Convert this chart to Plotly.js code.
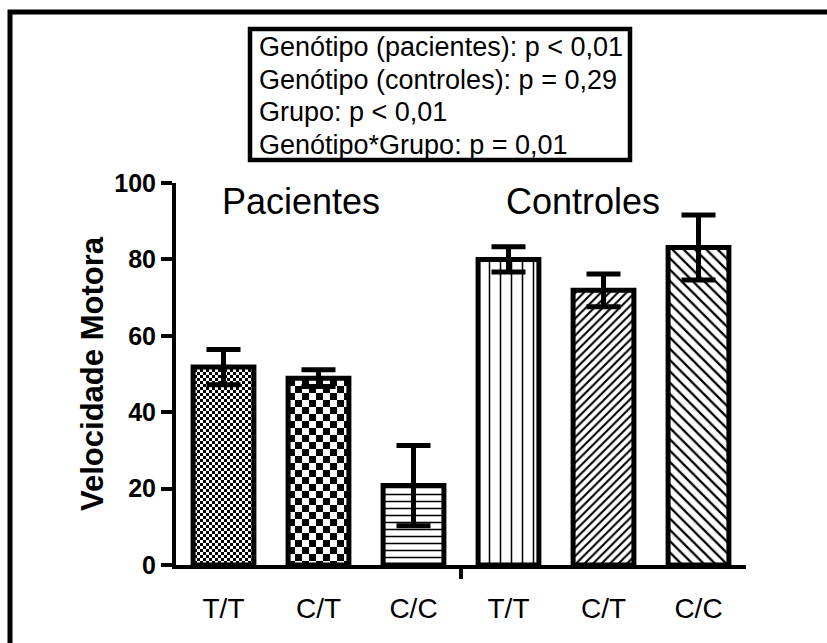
<!DOCTYPE html>
<html>
<head>
<meta charset="utf-8">
<script src="https://cdn.plot.ly/plotly-3.0.1.min.js"></script>
<style>
  html, body { margin: 0; padding: 0; background: #fff; }
  #chart { width: 827px; height: 643px; }
</style>
</head>
<body>
<div id="chart"></div>
<script>
// ---- data ----
const groups    = ['Pacientes', 'Pacientes', 'Pacientes', 'Controles', 'Controles', 'Controles'];
const genotypes = ['T/T', 'C/T', 'C/C', 'T/T', 'C/T', 'C/C'];
const means     = [51.8, 48.9, 20.8, 80.0, 71.9, 83.1];
const sems      = [4.6, 2.2, 10.5, 3.3, 4.3, 8.5];
const groupLabels = ['Pacientes', 'Controles'];
const statsLines = [
  'Genótipo (pacientes): p < 0,01',
  'Genótipo (controles): p = 0,29',
  'Grupo: p < 0,01',
  'Genótipo*Grupo: p = 0,01'
];
const yTicks = [0, 20, 40, 60, 80, 100];
const yTitle = 'Velocidade Motora';

// ---- styling ----
const FONT = 'Liberation Sans, Arial, Helvetica, sans-serif';
const patternShapes = ['.', '.', '-', '|', '/', '\\'];
const patternSizes  = [4, 10, 7, 11, 6, 8];
const patternSolid  = [0.5, 0.45, 0.22, 0.14, 0.35, 0.28];
// checkerboard square size (px) for the first two bars (null = keep library pattern)
const checkerSizes  = [3, 7, null, null, null, null];

const xpos = genotypes.map((_, i) => i);

// pixel -> paper helpers (plot area: x 176..746, y 183..565)
const L = 176, R = 81, T = 183, B = 78, W = 827, H = 643;
const PW = W - L - R, PH = H - T - B;
const px = x => (x - L) / PW;
const py = y => (H - B - y) / PH;

const trace = {
  type: 'bar',
  x: xpos,
  y: means,
  width: 0.64,
  marker: {
    color: 'white',
    line: { color: 'black', width: 5 },
    pattern: {
      shape: patternShapes,
      size: patternSizes,
      solidity: patternSolid,
      fgcolor: 'black',
      bgcolor: 'white',
      fillmode: 'replace'
    }
  },
  error_y: {
    type: 'data',
    array: sems,
    visible: true,
    color: 'black',
    thickness: 5,
    width: 17
  },
  hoverinfo: 'skip'
};

const statsY = [47, 80, 112, 145];
const statsAnn = statsLines.map((t, i) => ({
  text: t, xref: 'paper', yref: 'paper',
  x: px(257), y: py(statsY[i]), xanchor: 'left', yanchor: 'middle', align: 'left',
  showarrow: false, font: { family: FONT, size: 27, color: 'black' }
}));

const layout = {
  width: W, height: H,
  margin: { l: L, r: R, t: T, b: B, pad: 0 },
  paper_bgcolor: 'white',
  plot_bgcolor: 'white',
  showlegend: false,
  xaxis: {
    range: [-0.5, 5.5],
    tickvals: xpos,
    ticktext: genotypes,
    ticks: '',
    showline: true, linecolor: 'black', linewidth: 4,
    showgrid: false, zeroline: false,
    tickfont: { family: FONT, size: 28, color: 'black' },
    ticklabelstandoff: 15,
    fixedrange: true
  },
  yaxis: {
    range: [0, 100],
    tickvals: yTicks,
    ticks: 'outside', ticklen: 11, tickwidth: 4, tickcolor: 'black',
    showline: true, linecolor: 'black', linewidth: 4,
    showgrid: false, zeroline: false,
    tickfont: { family: FONT, size: 25, color: 'black', weight: 'bold' },
    title: { text: yTitle, font: { family: FONT, size: 31, color: 'black', weight: 'bold' }, standoff: 2 },
    fixedrange: true
  },
  shapes: [
    // outer frame
    { type: 'rect', xref: 'paper', yref: 'paper',
      x0: px(10), x1: px(880), y0: py(12), y1: py(700),
      line: { color: 'black', width: 5 }, fillcolor: 'rgba(0,0,0,0)' },
    // stats box
    { type: 'rect', xref: 'paper', yref: 'paper',
      x0: px(250), x1: px(630), y0: py(29), y1: py(160),
      line: { color: 'black', width: 4.5 }, fillcolor: 'white' },
    // separator tick between groups
    { type: 'line', xref: 'x', yref: 'paper',
      x0: 2.5, x1: 2.5, y0: py(565), y1: py(579),
      line: { color: 'black', width: 4 } }
  ],
  annotations: statsAnn.concat([
    { text: groupLabels[0], xref: 'paper', yref: 'paper',
      x: px(301), y: py(201), xanchor: 'center', yanchor: 'middle',
      showarrow: false, font: { family: FONT, size: 36, color: 'black' } },
    { text: groupLabels[1], xref: 'paper', yref: 'paper',
      x: px(583), y: py(201), xanchor: 'center', yanchor: 'middle',
      showarrow: false, font: { family: FONT, size: 36, color: 'black' } }
  ])
};

function applyCheckers(gd) {
  const NS = 'http://www.w3.org/2000/svg';
  const paths = gd.querySelectorAll('.barlayer .point path');
  paths.forEach((p, i) => {
    const a = checkerSizes[i];
    if (!a) return;
    const fill = p.style.fill || p.getAttribute('fill') || '';
    const m = fill.match(/#([^"')\s]+)/);
    if (!m) return;
    const pat = gd.querySelector('pattern[id="' + m[1] + '"]') || document.getElementById(m[1]);
    if (!pat) return;
    while (pat.firstChild) pat.removeChild(pat.firstChild);
    pat.setAttribute('width', 2 * a);
    pat.setAttribute('height', 2 * a);
    pat.setAttribute('patternUnits', 'userSpaceOnUse');
    pat.removeAttribute('patternTransform');
    const mk = (x, y, s, c) => {
      const r = document.createElementNS(NS, 'rect');
      r.setAttribute('x', x); r.setAttribute('y', y);
      r.setAttribute('width', s); r.setAttribute('height', s);
      r.setAttribute('fill', c);
      r.setAttribute('shape-rendering', 'crispEdges');
      pat.appendChild(r);
    };
    mk(0, 0, 2 * a, 'white');
    mk(0, 0, a, 'black');
    mk(a, a, a, 'black');
  });
}

Plotly.newPlot('chart', [trace], layout, { staticPlot: true, displayModeBar: false })
  .then(gd => { try { applyCheckers(gd); } catch (e) { console.log(e); } });
</script>
</body>
</html>
